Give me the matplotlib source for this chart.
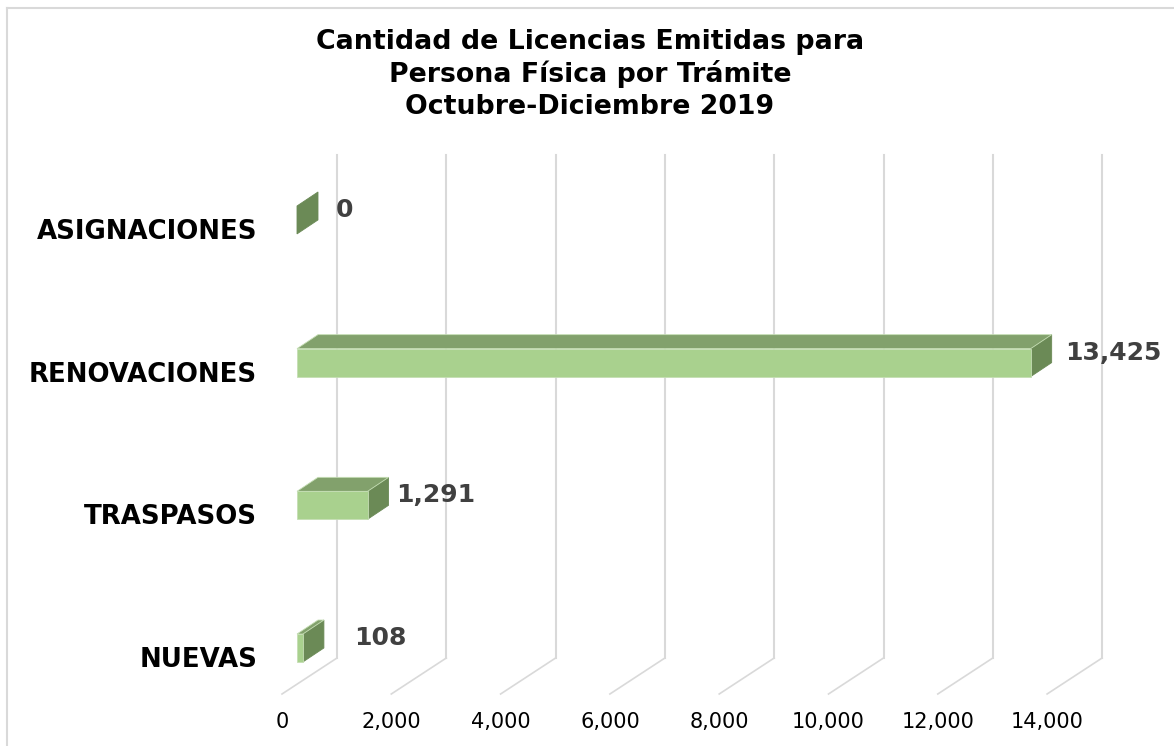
import numpy as np
import matplotlib
matplotlib.use("Agg")
import matplotlib.pyplot as plt
from matplotlib.patches import Polygon
from matplotlib.lines import Line2D
import matplotlib.transforms as mtransforms

# --- Data ---
categories = ["NUEVAS", "TRASPASOS", "RENOVACIONES", "ASIGNACIONES"]
values = [108, 1291, 13425, 0]
value_labels = ["108", "1,291", "13,425", "0"]
x_ticks = [0, 2000, 4000, 6000, 8000, 10000, 12000, 14000]
x_tick_labels = ["0", "2,000", "4,000", "6,000", "8,000", "10,000", "12,000", "14,000"]
title_lines = ["Cantidad de Licencias Emitidas para",
               "Persona Física por Trámite",
               "Octubre-Diciembre 2019"]

# --- Style ---
FRONT = "#A9D18E"
TOP = "#82A16C"
SIDE = "#6B8A56"
GRID = "#D9D9D9"
LABEL_GREY = "#404040"

W, H, DPI = 1174, 746, 100
BAR_H = 0.196            # bar height in category units
BAR_DEPTH = (21, 14)     # pixel offset of the bar's back face
FRONT_PLANE = (-15, -10)  # floor front edge, relative to bar front face
BACK_PLANE = (40, 26)     # back wall, relative to bar front face
LABEL_PAD = [30, 8, 13, 18]

fig = plt.figure(figsize=(W / DPI, H / DPI), dpi=DPI)
fig.patch.set_facecolor("white")

# axes in the plane of the bar front faces
ax = fig.add_axes([297 / W, (H - 684) / H, 7 * 109.3 / W, 503 / H])
ax.set_xlim(0, 14000)
ax.set_ylim(-0.2523, 3.273)
ax.axis("off")

ident = mtransforms.IdentityTransform()


def px(x, y, off=(0, 0)):
    p = ax.transData.transform((x, y))
    return (p[0] + off[0], p[1] + off[1])


y0, y1 = ax.get_ylim()

# back wall gridlines and floor lines
for v in x_ticks:
    a = px(v, y0, BACK_PLANE)
    b = px(v, y1, BACK_PLANE)
    fig.lines.append(Line2D([a[0], b[0]], [a[1], b[1]], color=GRID, lw=1.5,
                            transform=ident, zorder=1))
    f = px(v, y0, FRONT_PLANE)
    fig.lines.append(Line2D([f[0], a[0]], [f[1], a[1]], color=GRID, lw=1.2,
                            transform=ident, zorder=1))

# tick labels on the floor front edge
for v, lab in zip(x_ticks, x_tick_labels):
    f = px(v, y0, FRONT_PLANE)
    fig.text(f[0] / W, (f[1] - 28) / H, lab, ha="center", va="center",
             fontsize=15, color="black")

# bars
dx, dy = BAR_DEPTH
for i, (cat, val) in enumerate(zip(categories, values)):
    bl = px(0, i - BAR_H / 2)
    br = px(val, i - BAR_H / 2)
    tl = px(0, i + BAR_H / 2)
    tr = px(val, i + BAR_H / 2)
    ec = "#C5DEB4"
    # side face
    side = Polygon([br, tr, (tr[0] + dx, tr[1] + dy), (br[0] + dx, br[1] + dy)],
                   closed=True, facecolor=SIDE, edgecolor=SIDE, lw=0.6,
                   transform=ident, zorder=3)
    fig.patches.append(side)
    if val > 0:
        top = Polygon([tl, tr, (tr[0] + dx, tr[1] + dy), (tl[0] + dx, tl[1] + dy)],
                      closed=True, facecolor=TOP, edgecolor=ec, lw=0.6,
                      transform=ident, zorder=3)
        front = Polygon([bl, br, tr, tl], closed=True, facecolor=FRONT,
                        edgecolor=ec, lw=0.6, transform=ident, zorder=4)
        fig.patches.append(top)
        fig.patches.append(front)

    # value label
    lx = br[0] + dx + LABEL_PAD[i]
    ly = (br[1] + tr[1]) / 2 + 10
    fig.text(lx / W, ly / H, value_labels[i], ha="left", va="center",
             fontsize=18, fontweight="bold", color=LABEL_GREY)

    # category label
    c = px(0, i, FRONT_PLANE)
    fig.text(257 / W, (c[1] - 2) / H, cat, ha="right", va="center",
             fontsize=18.7, fontweight="bold", color="black")

# title
for k, line in enumerate(title_lines):
    fig.text(590 / W, 1 - (42 + 32.5 * k) / H, line, ha="center", va="center",
             fontsize=19.3, fontweight="bold", color="black")

# chart frame (top and left edges visible)
fig.lines.append(Line2D([7, 7], [0, H - 8], color="#D9D9D9", lw=1.5, transform=ident))
fig.lines.append(Line2D([7, W], [H - 8, H - 8], color="#D9D9D9", lw=1.5, transform=ident))

fig.savefig("out.png", dpi=DPI, facecolor="white")
